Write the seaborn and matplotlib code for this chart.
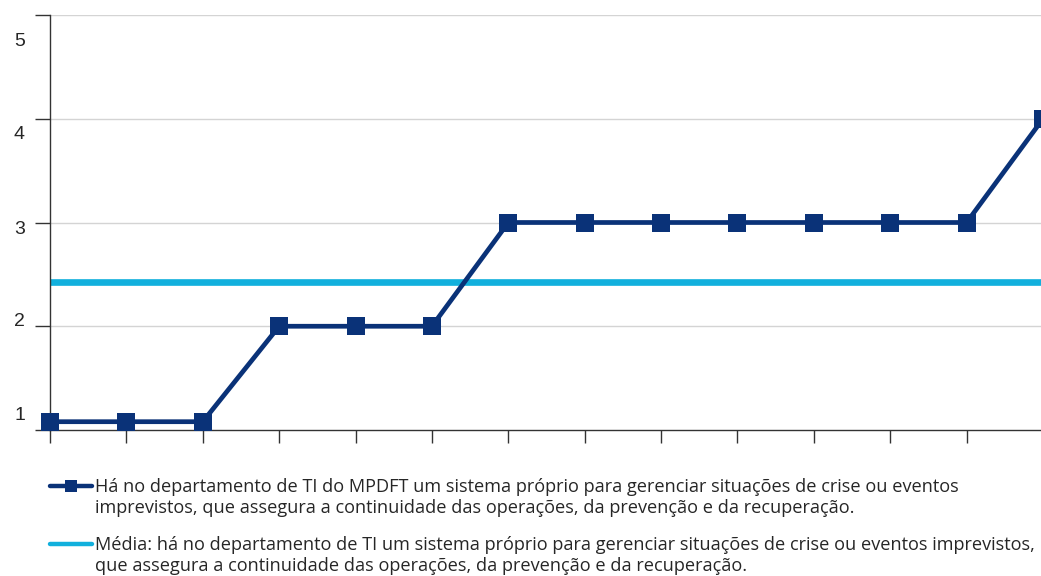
import matplotlib
matplotlib.use("Agg")
import matplotlib.pyplot as plt
import matplotlib.transforms as mtransforms
import numpy as np
import pandas as pd
import seaborn as sns

# data
respondents = list(range(14))
scores = [1.08, 1.08, 1.08, 2, 2, 2, 3, 3, 3, 3, 3, 3, 3, 4]
mean_score = 2.43
y_ticks = [1, 2, 3, 4, 5]

label_series = ("Há no departamento de TI do MPDFT um sistema próprio para gerenciar situações de crise ou eventos\n"
                "imprevistos, que assegura a continuidade das operações, da prevenção e da recuperação.")
label_mean = ("Média: há no departamento de TI um sistema próprio para gerenciar situações de crise ou eventos imprevistos,\n"
              "que assegura a continuidade das operações, da prevenção e da recuperação.")

navy = "#0a3278"
cyan = "#12b0dd"

sns.set_style("white")
plt.rcParams['font.family'] = ['Liberation Sans', 'DejaVu Sans']

fig = plt.figure(figsize=(10.41, 5.76), dpi=100)
ax = fig.add_axes([50 / 1041, 146 / 576, 993 / 1041, 415 / 576])

df = pd.DataFrame({"x": respondents, "y": scores})
ax.axhline(mean_score, color=cyan, lw=4.8, zorder=2, label=label_mean)
sns.lineplot(data=df, x="x", y="y", ax=ax, color=navy, lw=3.4, marker="s",
             markersize=12.5, markeredgewidth=0, clip_on=False, zorder=3,
             label=label_series)

ax.set_xlim(0, 13)
ax.set_ylim(1, 5)
ax.set_xticks(respondents)
ax.set_xticklabels([])
ax.set_yticks(y_ticks)
ax.set_yticklabels([str(t) for t in y_ticks], fontsize=14)
ax.set_xlabel("")
ax.set_ylabel("")

for v in y_ticks[1:]:
    ax.axhline(v, color="#d4d4d4", lw=1, zorder=1)

ax.tick_params(axis="y", direction="out", length=11, width=1, color="#333333", pad=7, left=True)
ax.tick_params(axis="x", direction="out", length=9.5, width=1, color="#333333", bottom=True)
for s in ["top", "right"]:
    ax.spines[s].set_visible(False)
for s in ["left", "bottom"]:
    ax.spines[s].set_color("#333333")
    ax.spines[s].set_linewidth(1)

# the reference's tick labels sit unevenly next to their ticks
offsets_px = {1: 17, 2: 7, 3: -5, 4: -14, 5: -25}
for lab, t in zip(ax.get_yticklabels(), y_ticks):
    off = mtransforms.ScaledTranslation(0, offsets_px[t] / 100, fig.dpi_scale_trans)
    lab.set_transform(lab.get_transform() + off)

handles, labels = ax.get_legend_handles_labels()
if ax.get_legend() is not None:
    ax.get_legend().remove()
order = [labels.index(label_series), labels.index(label_mean)]
leg = fig.legend([handles[i] for i in order], [labels[i] for i in order],
                 loc="upper left", bbox_to_anchor=(50 / 1041, 1 - 478 / 576),
                 frameon=False, handlelength=2.3, handleheight=1.2, handletextpad=0.2,
                 labelspacing=1.05, borderaxespad=0, borderpad=0,
                 prop={"family": "Open Sans", "size": 13.1})
for line in leg.get_lines():
    line.set_markersize(9)
    line.set_linewidth(3.2)

# put each legend key next to the first line of its label
try:
    for column in leg._legend_handle_box.get_children():
        for item in column.get_children():
            item.align = "top"
except AttributeError:
    pass

fig.savefig("out.png", dpi=100)
